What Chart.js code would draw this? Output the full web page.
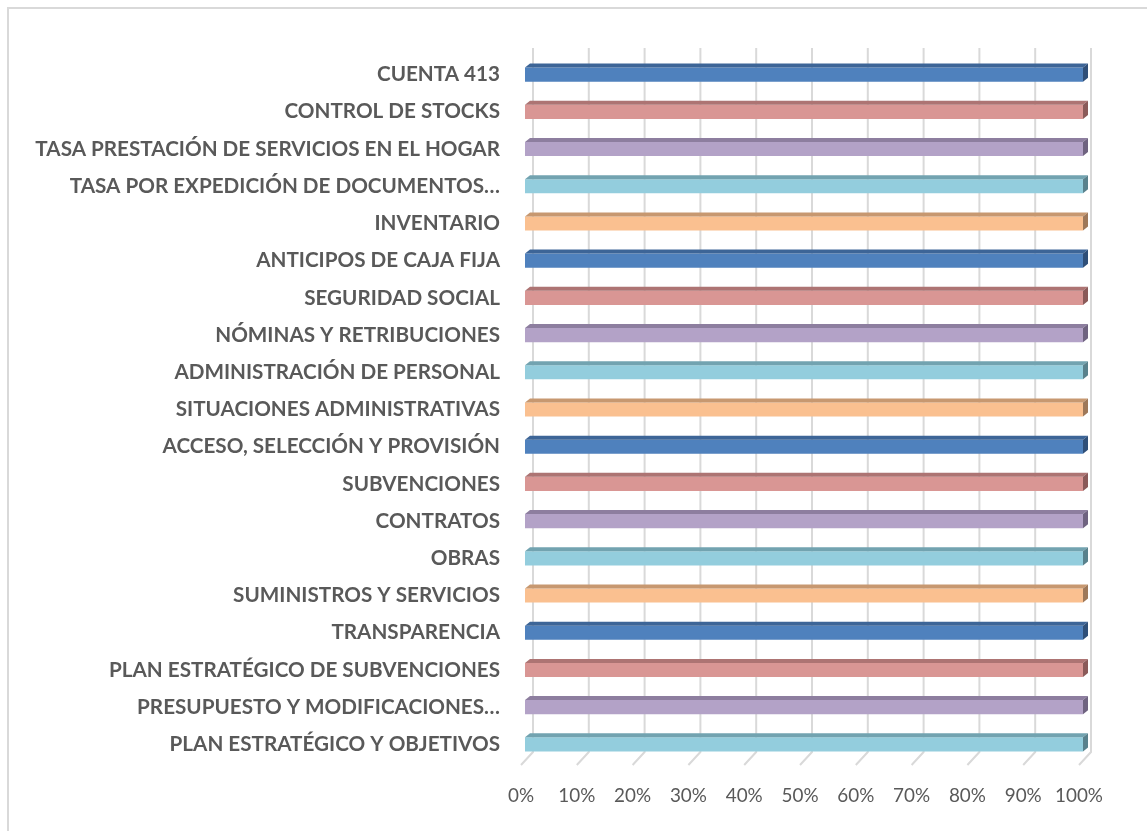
<!DOCTYPE html>
<html>
<head>
<meta charset="utf-8">
<script src="https://cdn.jsdelivr.net/npm/chart.js@4/dist/chart.umd.min.js"></script>
<style>
  html, body { margin: 0; padding: 0; background: #ffffff; }
  #wrap { position: relative; width: 1147px; height: 831px; overflow: hidden; }
  #frame { position: absolute; left: 7px; top: 7px; width: 1200px; height: 900px;
           border-left: 2px solid #d9d9d9; border-top: 2px solid #d9d9d9; pointer-events: none; }
  canvas { position: absolute; left: 0; top: 0; }
</style>
</head>
<body>
<div id="wrap">
  <canvas id="c" width="1147" height="831"></canvas>
  <div id="frame"></div>
</div>
<script>
// ---- data ----
const categories = [
  "CUENTA 413",
  "CONTROL DE STOCKS",
  "TASA PRESTACIÓN DE SERVICIOS EN EL HOGAR",
  "TASA POR EXPEDICIÓN DE DOCUMENTOS…",
  "INVENTARIO",
  "ANTICIPOS DE CAJA FIJA",
  "SEGURIDAD SOCIAL",
  "NÓMINAS Y RETRIBUCIONES",
  "ADMINISTRACIÓN DE PERSONAL",
  "SITUACIONES ADMINISTRATIVAS",
  "ACCESO, SELECCIÓN Y PROVISIÓN",
  "SUBVENCIONES",
  "CONTRATOS",
  "OBRAS",
  "SUMINISTROS Y SERVICIOS",
  "TRANSPARENCIA",
  "PLAN ESTRATÉGICO DE SUBVENCIONES",
  "PRESUPUESTO Y MODIFICACIONES…",
  "PLAN ESTRATÉGICO Y OBJETIVOS"
];
const values = [100,100,100,100,100,100,100,100,100,100,100,100,100,100,100,100,100,100,100];
const tickValues = [0,10,20,30,40,50,60,70,80,90,100];

// ---- styles ----
const frontColors = ["#4f81bd","#d99694","#b3a2c7","#93cddd","#fac090"];
const topColors   = ["#3d6597","#ad7473","#8d7e9f","#72a3b0","#c79870"];
const sideColors  = ["#2f4f78","#8a5a59","#6f6380","#59818c","#9e7859"];
const colorIdx = [0,1,2,3,4,0,1,2,3,4,0,1,2,3,4,0,1,2,3];

const FONT = "Lato";
function fitSize(text, weight, target) {
  const ctx = document.createElement('canvas').getContext('2d');
  ctx.font = weight + " 100px " + FONT;
  return 100 * target / ctx.measureText(text).width;
}

const plugin3d = {
  id: 'fake3d',
  beforeDatasetsDraw(chart) {
    const ctx = chart.ctx, xs = chart.scales.x, ca = chart.chartArea;
    ctx.save();
    ctx.strokeStyle = "#d9d9d9";
    ctx.lineWidth = 2;
    tickValues.forEach(v => {
      const x = xs.getPixelForValue(v);
      ctx.beginPath();
      ctx.moveTo(x + 8, ca.top - 8);
      ctx.lineTo(x + 8, ca.bottom - 11);
      ctx.lineTo(x - 4, ca.bottom + 2);
      ctx.stroke();
    });
    ctx.restore();
  },
  afterDatasetsDraw(chart) {
    const ctx = chart.ctx;
    const meta = chart.getDatasetMeta(0);
    const dx = 5, dy = 4;
    ctx.save();
    meta.data.forEach((bar, i) => {
      const p = bar.getProps(['x','y','base','height'], true);
      const top = p.y - p.height / 2, bot = p.y + p.height / 2;
      const ci = colorIdx[i];
      ctx.fillStyle = topColors[ci];
      ctx.beginPath();
      ctx.moveTo(p.base, top);
      ctx.lineTo(p.x, top);
      ctx.lineTo(p.x + dx, top - dy);
      ctx.lineTo(p.base + dx, top - dy);
      ctx.closePath();
      ctx.fill();
      ctx.fillStyle = sideColors[ci];
      ctx.beginPath();
      ctx.moveTo(p.x, top);
      ctx.lineTo(p.x, bot);
      ctx.lineTo(p.x + dx, bot - dy);
      ctx.lineTo(p.x + dx, top - dy);
      ctx.closePath();
      ctx.fill();
    });
    ctx.restore();
  }
};

document.fonts.load("bold 20px " + FONT).then(() => document.fonts.load("20px " + FONT)).then(draw, draw);

function draw() {
  const labelSize = fitSize("TASA PRESTACIÓN DE SERVICIOS EN EL HOGAR", "bold", 465);
  const tickSize = fitSize("100%", "normal", 48);
  new Chart(document.getElementById('c'), {
    type: 'bar',
    data: {
      labels: categories,
      datasets: [{
        data: values,
        backgroundColor: colorIdx.map(i => frontColors[i]),
        borderWidth: 0,
        barPercentage: 0.38,
        categoryPercentage: 1.0
      }]
    },
    options: {
      indexAxis: 'y',
      responsive: false,
      animation: false,
      layout: { padding: { top: 56, left: 0, right: 64, bottom: 0 } },
      plugins: { legend: { display: false }, tooltip: { enabled: false } },
      scales: {
        x: {
          min: 0, max: 100,
          afterBuildTicks(scale) { scale.ticks = tickValues.map(v => ({ value: v })); },
          afterFit(scale) { scale.height = 68; },
          grid: { display: false, drawTicks: false },
          border: { display: false },
          ticks: {
            padding: 22,
            labelOffset: -4,
            color: "#595959",
            font: { family: FONT, size: tickSize, weight: 'normal' },
            callback: v => v + "%"
          }
        },
        y: {
          afterFit(scale) { scale.width = 525; },
          grid: { display: false, drawTicks: false },
          border: { display: false },
          ticks: {
            padding: 25,
            color: "#595959",
            font: { family: FONT, size: labelSize, weight: 'bold' }
          }
        }
      }
    },
    plugins: [plugin3d]
  });
}
</script>
</body>
</html>
